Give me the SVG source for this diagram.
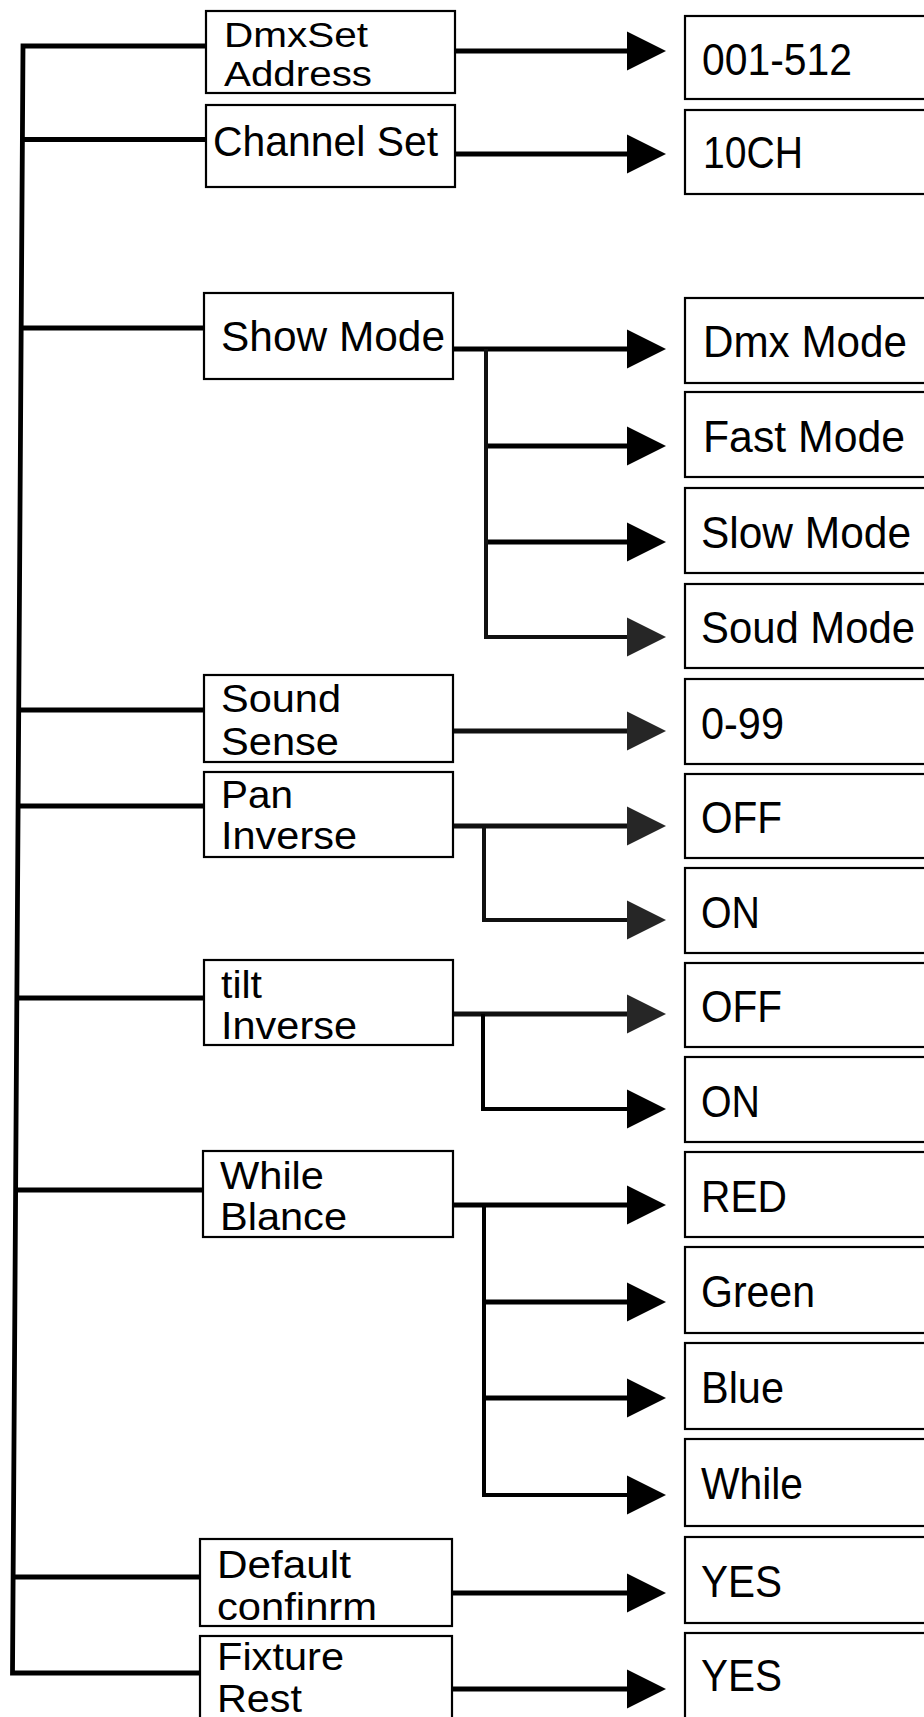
<svg xmlns="http://www.w3.org/2000/svg" width="924" height="1717" viewBox="0 0 924 1717">
<style>
.box{fill:#fff;stroke:#000;stroke-width:2.2}
.t{font-family:"Liberation Sans",Arial,sans-serif;fill:#000}
.l{font-size:38px}
.r{font-size:44px}
.ln{fill:none;stroke:#000;stroke-width:5}
.sp{fill:none;stroke:#000;stroke-width:4.8}
.ar{fill:none;stroke:#000;stroke-width:5;marker-end:url(#ah)}
.ag{fill:none;stroke:#111;stroke-width:5;marker-end:url(#ahg)}
</style>
<defs>
<marker id="ah" markerUnits="userSpaceOnUse" markerWidth="40" markerHeight="40" refX="13" refY="20" orient="auto"><path d="M0,0.5 L39,20 L0,39.5 Z" fill="#000"/></marker>
<marker id="ahg" markerUnits="userSpaceOnUse" markerWidth="40" markerHeight="40" refX="13" refY="20" orient="auto"><path d="M0,0.5 L39,20 L0,39.5 Z" fill="#262626"/></marker>
</defs>
<rect width="924" height="1717" fill="#fff"/>
<g id="connectors">
<path class="sp" d="M206,46 H23 L12.5,1673 H200"/>
<path class="ln" d="M22.4,139.5 H206"/>
<path class="ln" d="M21.2,328 H204"/>
<path class="ln" d="M18.7,710 H204"/>
<path class="ln" d="M18.1,806 H204"/>
<path class="ln" d="M16.9,998 H204"/>
<path class="ln" d="M15.6,1190 H204"/>
<path class="ln" d="M13.1,1577 H201"/>
<path class="ar" d="M455,51 H640"/>
<path class="ar" d="M455,154 H640"/>
<path class="ar" d="M453,349 H640"/>
<path class="ar" d="M486,446 H640"/>
<path class="ar" d="M486,542 H640"/>
<path class="ag" d="M486,349 V637 H640" style="stroke-width:4"/>
<path class="ag" d="M453,731 H640"/>
<path class="ag" d="M453,826 H640"/>
<path class="ag" d="M484,826 V920 H640" style="stroke-width:4"/>
<path class="ag" d="M453,1014 H640"/>
<path class="ar" d="M483,1014 V1109 H640" style="stroke-width:4"/>
<path class="ar" d="M453,1205 H640"/>
<path class="ar" d="M484,1302 H640"/>
<path class="ar" d="M484,1398 H640"/>
<path class="ar" d="M484,1205 V1495 H640" style="stroke-width:4"/>
<path class="ar" d="M452,1593 H640"/>
<path class="ar" d="M452,1689 H640"/>
</g>
<g id="n-dmxset"><rect class="box" x="206" y="11" width="249" height="82"/><text class="t" x="224" y="47" font-size="35" textLength="144" lengthAdjust="spacingAndGlyphs">DmxSet</text><text class="t" x="224" y="86" font-size="35" textLength="148" lengthAdjust="spacingAndGlyphs">Address</text></g>
<g id="n-channel"><rect class="box" x="206" y="105" width="249" height="82"/><text class="t" x="213" y="156" font-size="42" textLength="225" lengthAdjust="spacingAndGlyphs">Channel Set</text></g>
<g id="n-show"><rect class="box" x="204" y="293" width="249" height="86"/><text class="t" x="221" y="351" font-size="43" textLength="224" lengthAdjust="spacingAndGlyphs">Show  Mode</text></g>
<g id="n-sound"><rect class="box" x="204" y="675" width="249" height="87"/><text class="t l" x="221" y="712" textLength="120" lengthAdjust="spacingAndGlyphs">Sound</text><text class="t l" x="221" y="755" textLength="118" lengthAdjust="spacingAndGlyphs">Sense</text></g>
<g id="n-pan"><rect class="box" x="204" y="772" width="249" height="85"/><text class="t l" x="221" y="808" textLength="72" lengthAdjust="spacingAndGlyphs">Pan</text><text class="t l" x="221" y="849" textLength="136" lengthAdjust="spacingAndGlyphs">Inverse</text></g>
<g id="n-tilt"><rect class="box" x="204" y="960" width="249" height="85"/><text class="t l" x="221" y="998" textLength="41" lengthAdjust="spacingAndGlyphs">tilt</text><text class="t l" x="221" y="1039" textLength="136" lengthAdjust="spacingAndGlyphs">Inverse</text></g>
<g id="n-while"><rect class="box" x="203" y="1151" width="250" height="86"/><text class="t l" x="220" y="1189" textLength="104" lengthAdjust="spacingAndGlyphs">While</text><text class="t l" x="220" y="1230" textLength="127" lengthAdjust="spacingAndGlyphs">Blance</text></g>
<g id="n-default"><rect class="box" x="200" y="1539" width="252" height="87"/><text class="t l" x="217" y="1578" textLength="134" lengthAdjust="spacingAndGlyphs">Default</text><text class="t l" x="217" y="1620" textLength="160" lengthAdjust="spacingAndGlyphs">confinrm</text></g>
<g id="n-fixture"><rect class="box" x="200" y="1636" width="252" height="100"/><text class="t l" x="217" y="1670" textLength="127" lengthAdjust="spacingAndGlyphs">Fixture</text><text class="t l" x="217" y="1712" textLength="85" lengthAdjust="spacingAndGlyphs">Rest</text></g>
<g id="v-001512"><rect class="box" x="685" y="16" width="260" height="83"/><text class="t r" x="702" y="75" textLength="150" lengthAdjust="spacingAndGlyphs">001-512</text></g>
<g id="v-10ch"><rect class="box" x="685" y="110" width="260" height="84"/><text class="t r" x="703" y="168" textLength="100" lengthAdjust="spacingAndGlyphs">10CH</text></g>
<g id="v-dmx"><rect class="box" x="685" y="298" width="260" height="85"/><text class="t r" x="703" y="357" textLength="204" lengthAdjust="spacingAndGlyphs">Dmx  Mode</text></g>
<g id="v-fast"><rect class="box" x="685" y="392" width="260" height="85"/><text class="t r" x="703" y="452" textLength="202" lengthAdjust="spacingAndGlyphs">Fast  Mode</text></g>
<g id="v-slow"><rect class="box" x="685" y="488" width="260" height="85"/><text class="t r" x="701" y="548" textLength="210" lengthAdjust="spacingAndGlyphs">Slow  Mode</text></g>
<g id="v-soud"><rect class="box" x="685" y="584" width="260" height="84"/><text class="t r" x="701" y="643" textLength="214" lengthAdjust="spacingAndGlyphs">Soud  Mode</text></g>
<g id="v-099"><rect class="box" x="685" y="679" width="260" height="85"/><text class="t r" x="701" y="739" textLength="83" lengthAdjust="spacingAndGlyphs">0-99</text></g>
<g id="v-off1"><rect class="box" x="685" y="774" width="260" height="84"/><text class="t r" x="701" y="833" textLength="81" lengthAdjust="spacingAndGlyphs">OFF</text></g>
<g id="v-on1"><rect class="box" x="685" y="868" width="260" height="85"/><text class="t r" x="701" y="928" textLength="59" lengthAdjust="spacingAndGlyphs">ON</text></g>
<g id="v-off2"><rect class="box" x="685" y="963" width="260" height="84"/><text class="t r" x="701" y="1022" textLength="81" lengthAdjust="spacingAndGlyphs">OFF</text></g>
<g id="v-on2"><rect class="box" x="685" y="1057" width="260" height="85"/><text class="t r" x="701" y="1117" textLength="59" lengthAdjust="spacingAndGlyphs">ON</text></g>
<g id="v-red"><rect class="box" x="685" y="1152" width="260" height="85"/><text class="t r" x="701" y="1212" textLength="86" lengthAdjust="spacingAndGlyphs">RED</text></g>
<g id="v-green"><rect class="box" x="685" y="1247" width="260" height="86"/><text class="t r" x="701" y="1307" textLength="114" lengthAdjust="spacingAndGlyphs">Green</text></g>
<g id="v-blue"><rect class="box" x="685" y="1343" width="260" height="86"/><text class="t r" x="701" y="1403" textLength="83" lengthAdjust="spacingAndGlyphs">Blue</text></g>
<g id="v-while"><rect class="box" x="685" y="1439" width="260" height="87"/><text class="t r" x="701" y="1499" textLength="102" lengthAdjust="spacingAndGlyphs">While</text></g>
<g id="v-yes1"><rect class="box" x="685" y="1537" width="260" height="86"/><text class="t r" x="701" y="1597" textLength="81" lengthAdjust="spacingAndGlyphs">YES</text></g>
<g id="v-yes2"><rect class="box" x="685" y="1633" width="260" height="100"/><text class="t r" x="701" y="1691" textLength="81" lengthAdjust="spacingAndGlyphs">YES</text></g>
</svg>
